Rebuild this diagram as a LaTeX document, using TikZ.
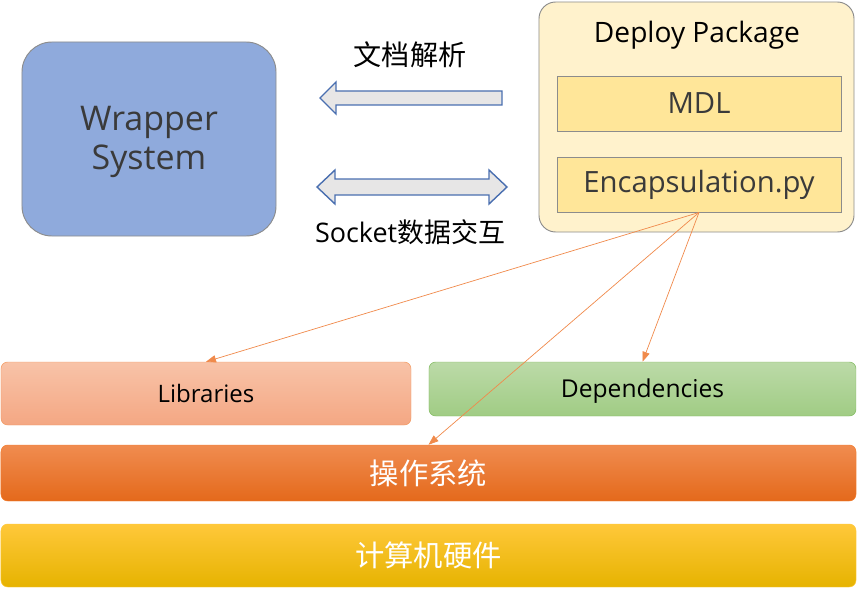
\documentclass[tikz,border=0pt]{standalone}
\usepackage{fontspec}
\setmainfont{Open Sans}
\newfontfamily\cjk{Noto Sans CJK SC}
\usetikzlibrary{arrows.meta}
\definecolor{wrapblue}{HTML}{8FAADC}
\definecolor{pkgcream}{HTML}{FFF2CC}
\definecolor{pkgyellow}{HTML}{FFE699}
\definecolor{boxgray}{HTML}{8C8C8C}
\definecolor{arrowblue}{HTML}{4A6FB0}
\definecolor{arrowgray}{HTML}{E7E6E6}
\definecolor{linkorange}{HTML}{F08A4B}
\definecolor{darktext}{HTML}{3A3A3A}
\definecolor{libtop}{HTML}{F8C3A8}
\definecolor{libbot}{HTML}{F4A783}
\definecolor{libline}{HTML}{F2975C}
\definecolor{deptop}{HTML}{BCDAA8}
\definecolor{depbot}{HTML}{A0CC84}
\definecolor{depline}{HTML}{7DB85B}
\definecolor{ostop}{HTML}{F08C50}
\definecolor{osmid}{HTML}{F47B2A}
\definecolor{osbot}{HTML}{E4691B}
\definecolor{hwtop}{HTML}{FFC83A}
\definecolor{hwmid}{HTML}{FFC000}
\definecolor{hwbot}{HTML}{E6B300}

\begin{document}
\begin{tikzpicture}[x=0.03cm,y=-0.03cm,
    pkgbox/.style={draw=boxgray, fill=pkgyellow, line width=0.8pt, minimum width=8.52cm, minimum height=1.65cm, text=darktext, font=\fontsize{25}{30}\selectfont},
    layer/.style={rounded corners=0.2cm, minimum width=25.65cm, text=white, font=\cjk\fontsize{25}{30}\selectfont},
    blockarrow/.style={draw=arrowblue, fill=arrowgray, line width=1.2pt, line join=miter},
    link/.style={draw=linkorange, line width=0.6pt, -{Triangle[length=0.3cm,width=0.22cm]}}]
    \useasboundingbox (0,0) rectangle (857,590);
    % top left
    \node [draw=boxgray, fill=wrapblue, line width=0.8pt, rounded corners=0.9cm, minimum width=7.62cm, minimum height=5.82cm, align=center, text=darktext, font=\fontsize{29}{34}\selectfont] (wrapper) at (149,139) {};
    \node [align=center, text=darktext, font=\fontsize{29}{34}\selectfont] (wraptext) at (149,142) {Wrapper\\System};
    % deploy package
    \node [draw=boxgray, fill=pkgcream, line width=0.8pt, rounded corners=0.5cm, minimum width=9.45cm, minimum height=6.9cm] (deploy) at (696.5,117) {};
    \node [font=\fontsize{24}{28}\selectfont] (title) at (697,35) {Deploy Package};
    \node [pkgbox] (mdl) at (699,103.5) {MDL};
    \node [pkgbox] (encap) at (699,184.5) {Encapsulation.py};
    % block arrows between them
    \draw [blockarrow] (502,91) -- (336,91) -- (336,82) -- (320,98) -- (336,114) -- (336,105) -- (502,105) -- cycle;
    \draw [blockarrow] (335,179) -- (489,179) -- (489,170) -- (507,187) -- (489,204) -- (489,195) -- (335,195) -- (335,204) -- (317,187) -- (335,170) -- cycle;
    \node [font=\cjk\fontsize{24}{28}\selectfont] (parse) at (410,55) {文档解析};
    \node [font=\fontsize{23}{27}\selectfont] (socket) at (410,232) {Socket{\cjk 数据交互}};
    % layers
    \node [draw=libline, top color=libtop, bottom color=libbot, rounded corners=0.2cm, minimum width=12.3cm, minimum height=1.89cm, font=\fontsize{20.5}{24}\selectfont] (lib) at (206,393.5) {Libraries};
    \node [draw=depline, top color=deptop, bottom color=depbot, rounded corners=0.2cm, minimum width=12.81cm, minimum height=1.62cm, font=\fontsize{21}{25}\selectfont] (dep) at (642.5,389) {};
    \node [font=\fontsize{21}{25}\selectfont] (deptext) at (642.5,391) {Dependencies};
    \node [layer, draw=osmid, top color=ostop, middle color=osmid, bottom color=osbot, minimum height=1.68cm] (os) at (428.5,473) {操作系统};
    \node [layer, draw=hwtop, top color=hwtop, middle color=hwmid, bottom color=hwbot, minimum height=1.89cm] (hw) at (428.5,555.5) {计算机硬件};
    % links
    \draw [link] (encap.south) -- (lib.north);
    \draw [link] (encap.south) -- (dep.north);
    \draw [link] (encap.south) -- (os.north);
\end{tikzpicture}
\end{document}
